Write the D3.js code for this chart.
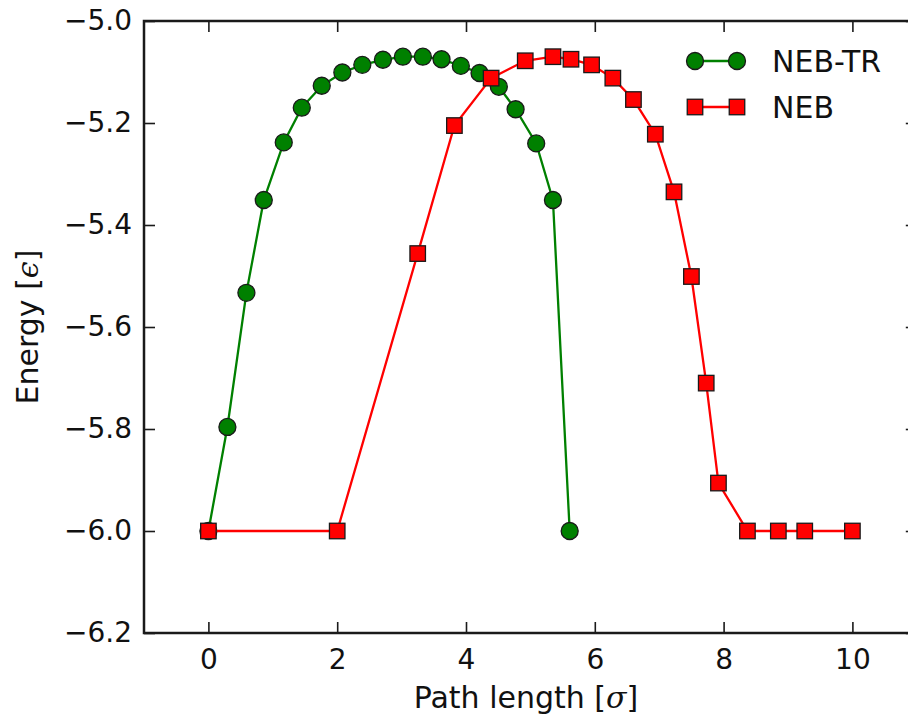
<!DOCTYPE html>
<html>
<head>
<meta charset="utf-8">
<script src="https://cdn.jsdelivr.net/npm/d3@7"></script>
<style>
  html, body { margin: 0; padding: 0; background: #fff; }
  svg { display: block; font-family: "DejaVu Sans", sans-serif; }
</style>
</head>
<body>
<svg id="chart" width="908" height="715"></svg>
<script>
// ---- data ----
const nebtrX = [0, 0.295, 0.59, 0.86, 1.17, 1.45, 1.76, 2.08, 2.39, 2.71, 3.02, 3.33, 3.62, 3.92, 4.21, 4.51, 4.77, 5.09, 5.35, 5.61];
const nebtrY = [-6.0, -5.796, -5.533, -5.351, -5.238, -5.170, -5.127, -5.101, -5.086, -5.076, -5.070, -5.070, -5.075, -5.088, -5.102, -5.129, -5.173, -5.240, -5.351, -6.0];
const nebX = [0, 2.0, 3.25, 3.82, 4.39, 4.92, 5.35, 5.63, 5.95, 6.28, 6.60, 6.94, 7.23, 7.50, 7.73, 7.92, 8.37, 8.85, 9.26, 10.0];
const nebY = [-6.0, -6.0, -5.456, -5.205, -5.112, -5.078, -5.070, -5.075, -5.086, -5.112, -5.154, -5.222, -5.335, -5.501, -5.710, -5.906, -6.0, -6.0, -6.0, -6.0];
const xTicks = [0, 2, 4, 6, 8, 10];
const yTicks = [-6.2, -6.0, -5.8, -5.6, -5.4, -5.2, -5.0];
const seriesNames = ["NEB-TR", "NEB"];
const xLabelParts = ["Path length [", "σ", "]"];
const yLabelParts = ["Energy [", "ϵ", "]"];

// ---- layout ----
const svg = d3.select("#chart");
const L = 144, T = 21, B = 633;
const x = d3.scaleLinear().domain([-1, 11]).range([L, L + 12 * 64.4]);
const y = d3.scaleLinear().domain([-6.2, -5.0]).range([B, T]);
const R = x(11);
const fmt = v => d3.format(".1f")(v).replace("-", "\u2212");
const axisColor = "#1a1a1a";

// ticks (inward on all sides)
const tickLen = 11;
const g = svg.append("g");
const xb = g.append("g").attr("transform", `translate(0,${B})`)
  .call(d3.axisBottom(x).tickValues(xTicks).tickSizeInner(-tickLen).tickSizeOuter(0).tickPadding(16).tickFormat(d3.format("d")));
const xt = g.append("g").attr("transform", `translate(0,${T})`)
  .call(d3.axisTop(x).tickValues(xTicks).tickSizeInner(-tickLen).tickSizeOuter(0).tickFormat(""));
const yl = g.append("g").attr("transform", `translate(${L},0)`)
  .call(d3.axisLeft(y).tickValues(yTicks).tickSizeInner(-tickLen).tickSizeOuter(0).tickPadding(12).tickFormat(fmt));
const yr = g.append("g").attr("transform", `translate(${R},0)`)
  .call(d3.axisRight(y).tickValues(yTicks).tickSizeInner(-tickLen).tickSizeOuter(0).tickFormat(""));
[xb, xt, yl, yr].forEach(a => {
  a.select(".domain").remove();
  a.selectAll(".tick line").attr("stroke", axisColor).attr("stroke-width", 1.6);
  a.selectAll(".tick text").attr("fill", "#111").attr("font-size", 28).attr("font-family", "DejaVu Sans");
});

// spines
g.append("rect").attr("x", L).attr("y", T).attr("width", R - L).attr("height", B - T)
  .attr("fill", "none").attr("stroke", axisColor).attr("stroke-width", 2.5);

// lines
const line = d3.line().x(d => x(d[0])).y(d => y(d[1]));
const greenData = nebtrX.map((v, i) => [v, nebtrY[i]]);
const redData = nebX.map((v, i) => [v, nebY[i]]);
const green = "#008000", red = "#ff0000";

svg.append("path").datum(greenData).attr("d", line).attr("fill", "none")
  .attr("stroke", green).attr("stroke-width", 2.3);
svg.append("g").selectAll("circle").data(greenData).join("circle")
  .attr("cx", d => x(d[0])).attr("cy", d => y(d[1])).attr("r", 8.5)
  .attr("fill", green).attr("stroke", "#1a1a1a").attr("stroke-width", 1.3);

svg.append("path").datum(redData).attr("d", line).attr("fill", "none")
  .attr("stroke", red).attr("stroke-width", 2.3);
const sq = 15.5;
svg.append("g").selectAll("rect").data(redData).join("rect")
  .attr("x", d => x(d[0]) - sq / 2).attr("y", d => y(d[1]) - sq / 2)
  .attr("width", sq).attr("height", sq)
  .attr("fill", red).attr("stroke", "#1a1a1a").attr("stroke-width", 1.3);

// legend
const leg = svg.append("g");
const lx0 = 695, lx1 = 737, lys = [61, 107];
seriesNames.forEach((name, i) => {
  const col = i === 0 ? green : red;
  const ly = lys[i];
  leg.append("line").attr("x1", lx0).attr("x2", lx1).attr("y1", ly).attr("y2", ly)
    .attr("stroke", col).attr("stroke-width", 2.3);
  [lx0, lx1].forEach(px => {
    if (i === 0) {
      leg.append("circle").attr("cx", px).attr("cy", ly).attr("r", 8.5)
        .attr("fill", col).attr("stroke", "#1a1a1a").attr("stroke-width", 1.3);
    } else {
      leg.append("rect").attr("x", px - sq / 2).attr("y", ly - sq / 2).attr("width", sq).attr("height", sq)
        .attr("fill", col).attr("stroke", "#1a1a1a").attr("stroke-width", 1.3);
    }
  });
  leg.append("text").attr("x", 772).attr("y", ly + 11).attr("font-size", 30).attr("fill", "#111").text(name);
});

// axis labels
function addLabel(sel, parts) {
  parts.forEach((p, i) => {
    const t = sel.append("tspan").text(p);
    if (i === 1) t.attr("font-style", "italic").attr("font-family", "DejaVu Serif");
  });
}
const xl = svg.append("text").attr("x", (L + 908) / 2).attr("y", 708).attr("text-anchor", "middle")
  .attr("font-size", 30).attr("fill", "#111");
addLabel(xl, xLabelParts);
const ylab = svg.append("text").attr("transform", `translate(38,${(T + B) / 2}) rotate(-90)`)
  .attr("text-anchor", "middle").attr("font-size", 30).attr("fill", "#111");
addLabel(ylab, yLabelParts);
</script>
</body>
</html>
